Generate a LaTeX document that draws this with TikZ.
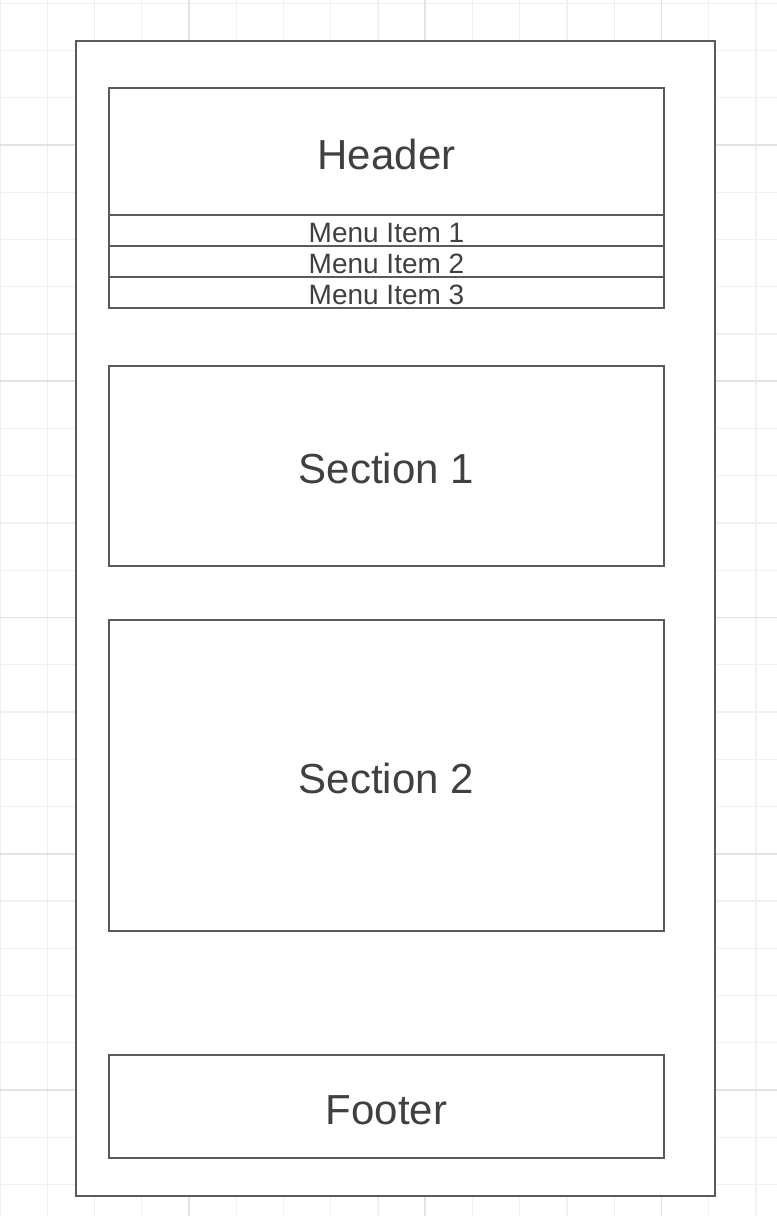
\documentclass[tikz,border=0pt]{standalone}
\usepackage{fontspec}
\setmainfont{Liberation Sans}
\usetikzlibrary{positioning}
\definecolor{gridline}{HTML}{F0F0F0}
\definecolor{gridmajor}{HTML}{E3E3E3}
\definecolor{boxline}{HTML}{5A5A5A}
\definecolor{boxtext}{HTML}{404040}
\tikzstyle{page} = [rectangle, minimum width=479.25pt, minimum height=866.25pt,
    draw=boxline, line width=1.1pt, fill=white]
\tikzstyle{panel} = [rectangle, minimum width=416.25pt, minimum height=150pt, inner sep=0pt, outer sep=0pt,
    text centered, text height=26.3pt, text depth=0pt,
    draw=boxline, line width=0.9pt, fill=white, text=boxtext, font=\fontsize{31.5}{36}\selectfont]
\tikzstyle{menuitem} = [panel, minimum height=23.25pt, text height=18pt, text depth=0pt,
    font=\fontsize{21}{24}\selectfont]
\tikzstyle{thin} = [gridline, line width=1.1pt]
\tikzstyle{thick} = [gridmajor, line width=1.3pt]

\begin{document}
\begin{tikzpicture}[x=0.75pt, y=-0.75pt]
                \useasboundingbox (0,0) rectangle (777,1216);
                \fill [white] (0,0) rectangle (777,1216);
                \foreach \k in {0,...,16} \draw [thin] (\k*47.25,0) -- (\k*47.25,1216);
                \foreach \k in {0,...,25} \draw [thin] (0,3.25+\k*47.25) -- (777,3.25+\k*47.25);
                \foreach \k in {4,9,14} \draw [thick] (\k*47.25,0) -- (\k*47.25,1216);
                \foreach \k in {3,8,13,18,23} \draw [thick] (0,3.25+\k*47.25) -- (777,3.25+\k*47.25);

                \node (frame) [page] at (395.5,618.5) {};
                \node (header) [panel, minimum height=95.25pt] at (386.5,151.5) {Header};
                \node (menu1) [menuitem, below=0pt of header] {Menu Item 1};
                \node (menu2) [menuitem, below=0pt of menu1] {Menu Item 2};
                \node (menu3) [menuitem, below=0pt of menu2] {Menu Item 3};
                \node (sec1) [panel, below=43.5pt of menu3] {Section 1};
                \node (sec2) [panel, minimum height=233.25pt, below=40.5pt of sec1] {Section 2};
                \node (footer) [panel, minimum height=77.25pt, below=93pt of sec2] {Footer};
            \end{tikzpicture}
\end{document}
